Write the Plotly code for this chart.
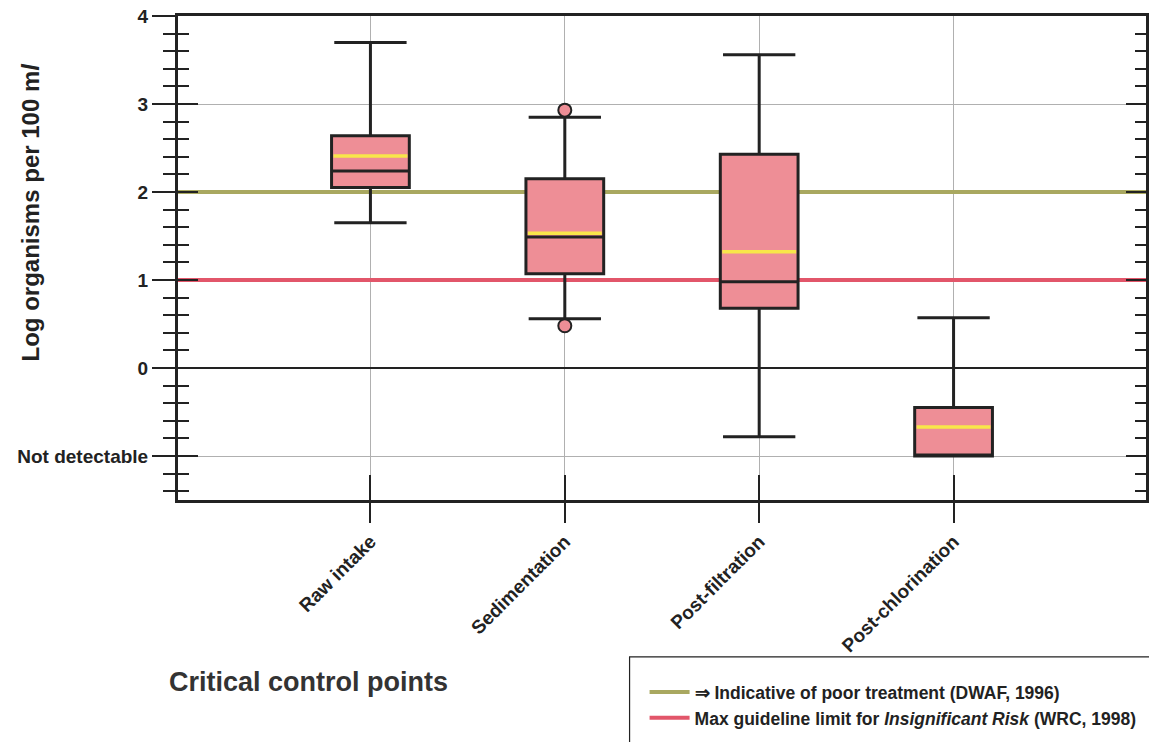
import plotly.graph_objects as go

# ---- data ----
categories = ["Raw intake", "Sedimentation", "Post-filtration", "Post-chlorination"]
upper_whisker = [3.70, 2.85, 3.56, 0.57]
q3_vals = [2.64, 2.15, 2.43, -0.45]
mean_vals = [2.41, 1.53, 1.32, -0.67]
median_vals = [2.24, 1.49, 0.98, -1.00]
q1_vals = [2.05, 1.07, 0.68, -1.00]
lower_whisker = [1.65, 0.56, -0.78, -1.00]

outlier_cat = ["Sedimentation", "Sedimentation"]
outlier_vals = [2.93, 0.48]

guide_names = ["\u21d2 Indicative of poor treatment (DWAF, 1996)",
               "Max guideline limit for <i>Insignificant Risk</i> (WRC, 1998)"]
guide_vals = [2.0, 1.0]
guide_colors = ["#a9a860", "#e2566a"]

y_tickvals = [-1, 0, 1, 2, 3, 4]
y_ticktext = ["Not detectable", "0", "1", "2", "3", "4"]

BOX_FILL = "#ee8e96"
DARK = "#222222"
YELLOW = "#f8e64a"
FONT = "Liberation Sans, Arial, sans-serif"
XR = [-0.99, 3.99]
YR = [-1.5, 4]

fig = go.Figure()

# guideline lines on the main (linear) axes, drawn below the boxes
for n, v, c in zip(guide_names, guide_vals, guide_colors):
    fig.add_trace(go.Scatter(
        x=XR, y=[v, v], mode="lines", name=n,
        line=dict(color=c, width=4), hoverinfo="skip",
    ))

# main boxes on the overlaid category axis
fig.add_trace(go.Box(
    x=categories, q1=q1_vals, median=median_vals, q3=q3_vals,
    lowerfence=lower_whisker, upperfence=upper_whisker,
    fillcolor=BOX_FILL, line=dict(color=DARK, width=3),
    width=0.4, whiskerwidth=0.93, boxpoints=False,
    showlegend=False, hoverinfo="skip",
    xaxis="x2", yaxis="y2",
))
# mean lines (yellow) as collapsed boxes
fig.add_trace(go.Box(
    x=categories, q1=mean_vals, median=mean_vals, q3=mean_vals,
    lowerfence=mean_vals, upperfence=mean_vals,
    fillcolor="rgba(0,0,0,0)", line=dict(color=YELLOW, width=3.5),
    width=0.38, whiskerwidth=0, boxpoints=False,
    showlegend=False, hoverinfo="skip",
    xaxis="x2", yaxis="y2",
))
# outliers
fig.add_trace(go.Scatter(
    x=outlier_cat, y=outlier_vals, mode="markers",
    marker=dict(size=13, color=BOX_FILL, line=dict(color=DARK, width=2)),
    showlegend=False, hoverinfo="skip",
    xaxis="x2", yaxis="y2",
))

fig.update_layout(
    width=1149, height=742,
    margin=dict(l=178, r=0, t=16, b=242),
    paper_bgcolor="white", plot_bgcolor="white",
    font=dict(family=FONT, color="#222"),
    boxmode="overlay",
    showlegend=True,
    legend=dict(
        x=0.482, y=-0.36, xanchor="left", yanchor="top",
        bgcolor="rgba(0,0,0,0)", borderwidth=0,
        font=dict(size=17.5, family=FONT, color="#222", weight="bold"),
        tracegroupgap=0,
        itemwidth=40,
    ),
    # main linear x axis: frame, vertical gridlines, inside ticks top & bottom
    xaxis=dict(
        range=XR, tickvals=[0, 1, 2, 3], showticklabels=False,
        showline=True, linecolor=DARK, linewidth=3, mirror=True,
        ticks="inside", ticklen=25, tickwidth=2, tickcolor=DARK,
        showgrid=True, gridcolor="#b0b0b0", gridwidth=1,
        zeroline=False,
    ),
    yaxis=dict(
        range=YR,
        tickvals=y_tickvals, ticktext=y_ticktext,
        showline=True, linecolor=DARK, linewidth=3, mirror=True,
        ticks="outside", ticklen=23, tickwidth=2, tickcolor=DARK,
        minor=dict(dtick=0.2, tick0=0, ticks="outside", ticklen=12, tickwidth=2,
                   tickcolor=DARK, showgrid=False),
        showgrid=True, gridcolor="#b0b0b0", gridwidth=1,
        zeroline=True, zerolinecolor=DARK, zerolinewidth=2,
        tickfont=dict(size=19, family=FONT, color="#222", weight="bold"),
    ),
    # overlaid category axis: outside ticks + rotated labels
    xaxis2=dict(
        type="category", categoryorder="array", categoryarray=categories,
        overlaying="x", anchor="y2", side="bottom", range=XR,
        ticks="outside", ticklen=22, tickwidth=2, tickcolor=DARK,
        tickangle=-45,
        tickfont=dict(size=19, family=FONT, color="#222", weight="bold"),
        showgrid=False, zeroline=False, showline=False,
    ),
    yaxis2=dict(
        overlaying="y", anchor="x2", side="left", range=YR,
        tick0=0, dtick=1, showticklabels=False,
        ticks="inside", ticklen=20, tickwidth=2, tickcolor=DARK, mirror="ticks",
        minor=dict(dtick=0.2, tick0=0, ticks="inside", ticklen=11, tickwidth=2,
                   tickcolor=DARK, showgrid=False),
        showgrid=False, zeroline=False, showline=False,
    ),
)

# legend border box
fig.add_shape(type="rect", xref="paper", yref="paper",
              x0=0.4665, x1=1.02, y0=-0.324, y1=-0.60,
              line=dict(color=DARK, width=1.2), fillcolor="rgba(0,0,0,0)")

# axis titles as annotations
fig.add_annotation(
    text="Log organisms per 100 m<i>l</i>", xref="paper", yref="paper",
    x=(30 - 178) / 971, y=(500 - 212) / 484, textangle=-90, showarrow=False,
    font=dict(size=24, family=FONT, color="#222", weight="bold"),
    xanchor="center", yanchor="middle",
)
fig.add_annotation(
    text="Critical control points", xref="paper", yref="paper",
    x=(167 - 178) / 971, y=(500 - 682) / 484, showarrow=False,
    font=dict(size=27, family=FONT, color="#333", weight="bold"),
    xanchor="left", yanchor="middle",
)

fig.write_html("out.html")
